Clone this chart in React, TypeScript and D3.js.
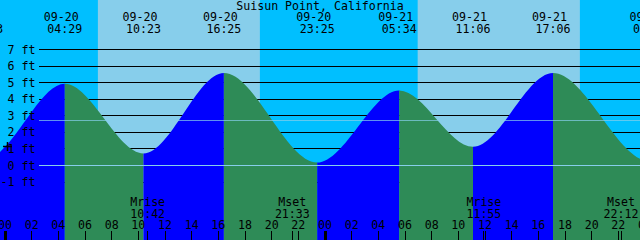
import React from "react";
import * as d3 from "d3";

const W = 640;
const H = 240;
const FONT = "'DejaVu Sans Mono', 'Liberation Mono', monospace";

const title = "Suisun Point, California";

// Tide extrema (local time), heights in feet
const tideTimes = [
  "2023-09-19 16:10",
  "2023-09-19 22:33",
  "2023-09-20 04:29",
  "2023-09-20 10:23",
  "2023-09-20 16:25",
  "2023-09-20 23:25",
  "2023-09-21 05:34",
  "2023-09-21 11:06",
  "2023-09-21 17:06",
  "2023-09-22 00:25",
  "2023-09-22 06:50",
];
const tideHeights = [5.2, 0.4, 4.9, 0.7, 5.55, 0.15, 4.5, 1.1, 5.55, 0.2, 4.4];

// Sun (daylight intervals)
const sunrises = ["2023-09-20 06:58", "2023-09-21 06:57"];
const sunsets = ["2023-09-20 19:07", "2023-09-21 19:07"];

// Moon events
const moonTimes = ["2023-09-20 10:42", "2023-09-20 21:33", "2023-09-21 11:55", "2023-09-21 22:12"];
const moonLabels = ["Mrise", "Mset", "Mrise", "Mset"];

// Y axis levels (ft)
const levels = [-1, 0, 1, 2, 3, 4, 5, 6, 7];
const meanLevel = 2.72;

const parse = d3.utcParse("%Y-%m-%d %H:%M");
const fmtDate = d3.utcFormat("%m-%d");
const fmtTime = d3.utcFormat("%H:%M");
const fmtHour = d3.utcFormat("%H");

const start = new Date(Date.UTC(2023, 8, 19, 23, 37, 30));
const end = new Date(start.getTime() + 48 * 3600 * 1000);

export default function App() {
  const x = d3.scaleUtc().domain([start, end]).range([0, W]);
  const y = d3.scaleLinear().domain([0, 7]).range([165, 49]);

  const tides = tideTimes.map((t, i) => ({ t: parse(t)!, h: tideHeights[i] }));
  const area = d3
    .area<{ t: Date; h: number }>()
    .x((d) => x(d.t))
    .y0(H)
    .y1((d) => y(d.h))
    .curve(d3.curveMonotoneX);
  const areaPath = area(tides) || "";

  const segs = tides.slice(0, -1).map((d, i) => ({
    x0: x(d.t),
    x1: x(tides[i + 1].t),
    rising: tides[i + 1].h > d.h,
  }));

  const days = sunrises.map((s, i) => ({ x0: x(parse(s)!), x1: x(parse(sunsets[i])!) }));

  const hours = d3.utcHour
    .every(2)!
    .range(new Date(Date.UTC(2023, 8, 20, 0)), new Date(Date.UTC(2023, 8, 22, 0, 1)));

  const moons = moonTimes.map((t, i) => ({ t: parse(t)!, label: moonLabels[i] }));

  const ln = (v: number) => Math.round(v) + 0.5;

  return (
    <svg
      width={W}
      height={H}
      style={{ position: "absolute", left: 0, top: 0, display: "block" }}
      fontFamily={FONT}
      fontSize={11.6}
    >
      <defs>
        {segs.map((s, i) => (
          <clipPath id={`seg${i}`} key={i}>
            <rect x={s.x0} y={0} width={s.x1 - s.x0} height={H} />
          </clipPath>
        ))}
      </defs>
      {/* night background */}
      <rect x={0} y={0} width={W} height={H} fill="#00BFFF" />
      {days.map((d, i) => (
        <rect key={i} x={d.x0} y={0} width={d.x1 - d.x0} height={H} fill="#87CEEB" />
      ))}
      {/* level lines */}
      {levels.map((l) => (
        <line key={l} x1={39} x2={W} y1={ln(y(l))} y2={ln(y(l))} stroke="#000" strokeWidth={1} />
      ))}
      {/* water */}
      {segs.map((s, i) => (
        <path key={i} d={areaPath} fill={s.rising ? "#0000FF" : "#2E8B57"} clipPath={`url(#seg${i})`} />
      ))}
      {/* datum & mean lines */}
      <line x1={39} x2={W} y1={ln(y(0))} y2={ln(y(0))} stroke="#87CEEB" strokeWidth={1} />
      <line x1={39} x2={W} y1={ln(y(meanLevel))} y2={ln(y(meanLevel))} stroke="#87CEEB" strokeOpacity={0.7} strokeWidth={1} />
      {/* y labels */}
      {levels.map((l) => (
        <text key={l} x={35.5} y={y(l) + 4.5} textAnchor="end" fill="#000">
          {`${l} ft`}
        </text>
      ))}
      {/* mark */}
      <line x1={3} x2={12} y1={146.5} y2={146.5} stroke="#000" strokeWidth={1.5} />
      <line x1={7.5} x2={7.5} y1={142} y2={151} stroke="#000" strokeWidth={1.5} />
      {/* title */}
      <text x={W / 2} y={9.5} textAnchor="middle" fill="#000">
        {title}
      </text>
      {/* tide event labels */}
      {tides.map((d, i) => (
        <g key={i}>
          <text x={x(d.t) - 3.5} y={21} textAnchor="middle" fill="#000">
            {fmtDate(d.t)}
          </text>
          <text x={x(d.t)} y={33} textAnchor="middle" fill="#000">
            {fmtTime(d.t)}
          </text>
        </g>
      ))}
      {/* hour labels and ticks */}
      {hours.map((h, i) => {
        const hx = x(h);
        const midnight = h.getUTCHours() === 0;
        return (
          <g key={i}>
            <text x={hx} y={229} textAnchor="middle" fill="#000">
              {fmtHour(h)}
            </text>
            {midnight ? (
              <rect x={Math.floor(hx) - 1} y={231} width={3} height={9} fill="#000" />
            ) : (
              <line x1={Math.floor(hx) + 0.5} x2={Math.floor(hx) + 0.5} y1={231} y2={H} stroke="#000" />
            )}
          </g>
        );
      })}
      {/* moon events */}
      {moons.map((m, i) => {
        const mx = x(m.t);
        return (
          <g key={i}>
            <text x={mx} y={206} textAnchor="middle" fill="#000">
              {m.label}
            </text>
            <text x={mx} y={217.5} textAnchor="middle" fill="#000">
              {fmtTime(m.t)}
            </text>
            <line x1={Math.floor(mx) + 0.5} x2={Math.floor(mx) + 0.5} y1={231} y2={H} stroke="#000" />
          </g>
        );
      })}
    </svg>
  );
}
